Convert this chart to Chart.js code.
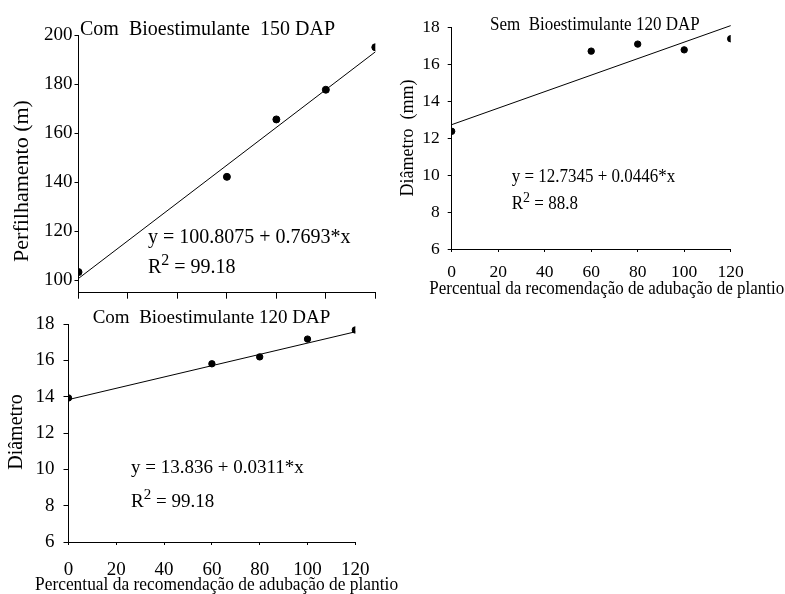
<!DOCTYPE html>
<html>
<head>
<meta charset="utf-8">
<script src="https://cdn.jsdelivr.net/npm/chart.js@4.4.1/dist/chart.umd.min.js"></script>
<style>
  html, body { margin: 0; padding: 0; background: #fff; }
  #page { position: relative; width: 785px; height: 594px; overflow: hidden; }
  canvas { position: absolute; }
</style>
</head>
<body>
<div id="page">
  <canvas id="c150" width="390" height="300" style="left:0;top:0"></canvas>
  <canvas id="sem120" width="395" height="300" style="left:390px;top:0"></canvas>
  <canvas id="com120" width="430" height="294" style="left:0;top:300px"></canvas>
</div>
<script>
// doses (% of recommended planting fertilisation)
const doses = [0, 60, 80, 100, 120];
const xTicks = [0, 20, 40, 60, 80, 100, 120];

// Com bioestimulante 150 DAP - perfilhamento
const perf150 = [103.4, 142.2, 165.6, 177.7, 195.0];
const perf150Fit = [100.81, 193.12];
const perfTicks = [100, 120, 140, 160, 180, 200];

// Sem bioestimulante 120 DAP - diametro
const diamSem120 = [12.37, 16.71, 17.09, 16.78, 17.38];
const diamSem120Fit = [12.73, 18.09];

// Com bioestimulante 120 DAP - diametro
const diamCom120 = [13.93, 15.81, 16.19, 17.17, 17.67];
const diamCom120Fit = [13.84, 17.57];

const diamTicks = [6, 8, 10, 12, 14, 16, 18];
const fitX = [0, 120];

const SERIF = '"Liberation Serif", "Times New Roman", serif';

function pts(xs, ys) {
  return xs.map((x, i) => ({ x: x, y: ys[i] }));
}

// "R² = value", the 2 raised and a bit smaller
function drawR2(ctx, r) {
  ctx.save();
  ctx.translate(r.x, r.y);
  ctx.scale(1, r.sy || 1);
  ctx.font = r.size + 'px ' + SERIF;
  ctx.fillText('R', 0, 0);
  let w = ctx.measureText('R').width;
  ctx.font = Math.round(r.size * 0.8) + 'px ' + SERIF;
  ctx.fillText('2', w, -r.size * 0.4);
  w += ctx.measureText('2').width;
  ctx.font = r.size + 'px ' + SERIF;
  ctx.fillText(' = ' + r.value, w, 0);
  ctx.restore();
}

const panelText = {
  id: 'panelText',
  afterDraw(chart, args, opts) {
    const ctx = chart.ctx;
    ctx.save();
    ctx.fillStyle = '#000';
    (opts.items || []).forEach(it => {
      ctx.save();
      ctx.font = it.size + 'px ' + SERIF;
      ctx.translate(it.x, it.y);
      if (it.rotate) {
        ctx.rotate(-Math.PI / 2);
        ctx.textAlign = 'center';
        ctx.textBaseline = 'middle';
      } else {
        ctx.scale(1, it.sy || 1);
        ctx.textAlign = 'left';
        ctx.textBaseline = 'alphabetic';
      }
      ctx.fillText(it.text, 0, 0);
      ctx.restore();
    });
    if (opts.r2) drawR2(ctx, opts.r2);
    ctx.restore();
  }
};

function zeroPad(scale) {
  scale.paddingLeft = 0; scale.paddingRight = 0;
  scale.paddingTop = 0; scale.paddingBottom = 0;
}

function makePanel(id, p) {
  const canvas = document.getElementById(id);
  const area = p.area; // plot rectangle inside the canvas
  new Chart(canvas, {
    type: 'scatter',
    data: {
      datasets: [
        {
          data: pts(doses, p.values),
          backgroundColor: '#000',
          borderColor: '#000',
          pointRadius: p.dot,
          pointHoverRadius: p.dot
        },
        {
          type: 'line',
          data: pts(fitX, p.fit),
          borderColor: '#000',
          borderWidth: 1,
          pointRadius: 0,
          showLine: true,
          fill: false,
          clip: false
        }
      ]
    },
    options: {
      responsive: false,
      animation: false,
      events: [],
      layout: {
        padding: { left: 0, bottom: 0, top: area.top, right: canvas.width - area.right },
        autoPadding: false
      },
      plugins: {
        legend: { display: false },
        tooltip: { enabled: false },
        panelText: { items: p.texts, r2: p.r2 }
      },
      scales: {
        x: {
          type: 'linear',
          min: 0, max: 120,
          afterBuildTicks: s => { s.ticks = xTicks.map(v => ({ value: v })); },
          afterFit: s => { s.height = canvas.height - area.bottom; zeroPad(s); },
          grid: { drawOnChartArea: false, tickLength: p.xTick, color: '#000' },
          border: { color: '#000', width: 1 },
          ticks: {
            display: p.xLabels,
            color: '#000',
            padding: p.xPad,
            maxRotation: 0,
            font: { family: SERIF, size: p.tickSize }
          }
        },
        y: {
          type: 'linear',
          min: p.yMin, max: p.yMax,
          afterBuildTicks: s => { s.ticks = p.yTicks.map(v => ({ value: v })); },
          afterFit: s => { s.width = area.left; zeroPad(s); },
          grid: { drawOnChartArea: false, tickLength: p.yTick, color: '#000' },
          border: { color: '#000', width: 1 },
          ticks: {
            color: '#000',
            padding: p.yPad,
            font: { family: SERIF, size: p.tickSize }
          }
        }
      }
    },
    plugins: [panelText]
  });
}

makePanel('c150', {
  values: perf150, fit: perf150Fit, dot: 3.5,
  yMin: 95, yMax: 200, yTicks: perfTicks,
  area: { left: 78.5, top: 35, right: 375.3, bottom: 292.7 },
  tickSize: 19, xLabels: false, xTick: 6, xPad: 0, yTick: 4, yPad: 2,
  texts: [
    { text: 'Com  Bioestimulante  150 DAP', x: 80, y: 35, size: 20 },
    { text: 'y = 100.8075 + 0.7693*x', x: 148, y: 242.5, size: 20 },
    { text: 'Perfilhamento (m)', x: 22, y: 181, size: 22, rotate: true }
  ],
  r2: { x: 148, y: 273, size: 20, value: '99.18' }
});

makePanel('sem120', {
  values: diamSem120, fit: diamSem120Fit, dot: 3.2,
  yMin: 6, yMax: 18, yTicks: diamTicks,
  area: { left: 61.7, top: 27.3, right: 340.7, bottom: 249 },
  tickSize: 17.5, xLabels: true, xTick: 3, xPad: 9.5, yTick: 4, yPad: 8,
  texts: [
    { text: 'Sem  Bioestimulante 120 DAP', x: 100, y: 30, size: 17, sy: 1.1 },
    { text: 'y = 12.7345 + 0.0446*x', x: 121.7, y: 181.7, size: 17, sy: 1.1 },
    { text: 'Diâmetro  (mm)', x: 18, y: 138, size: 18, rotate: true },
    { text: 'Percentual da recomendação de adubação de plantio', x: 39.3, y: 294, size: 17, sy: 1.1 }
  ],
  r2: { x: 121.7, y: 209, size: 17, sy: 1.1, value: '88.8' }
});

makePanel('com120', {
  values: diamCom120, fit: diamCom120Fit, dot: 3.2,
  yMin: 6, yMax: 18, yTicks: diamTicks,
  area: { left: 68.5, top: 24, right: 355.3, bottom: 242 },
  tickSize: 19, xLabels: true, xTick: 3, xPad: 14, yTick: 5, yPad: 9,
  texts: [
    { text: 'Com  Bioestimulante 120 DAP', x: 92.7, y: 23, size: 19 },
    { text: 'y = 13.836 + 0.0311*x', x: 131, y: 173.3, size: 19 },
    { text: 'Diâmetro', x: 17, y: 132, size: 20, rotate: true },
    { text: 'Percentual da recomendação de adubação de plantio', x: 35, y: 289.5, size: 17.4, sy: 1.08 }
  ],
  r2: { x: 131, y: 206.5, size: 19, value: '99.18' }
});
</script>
</body>
</html>
